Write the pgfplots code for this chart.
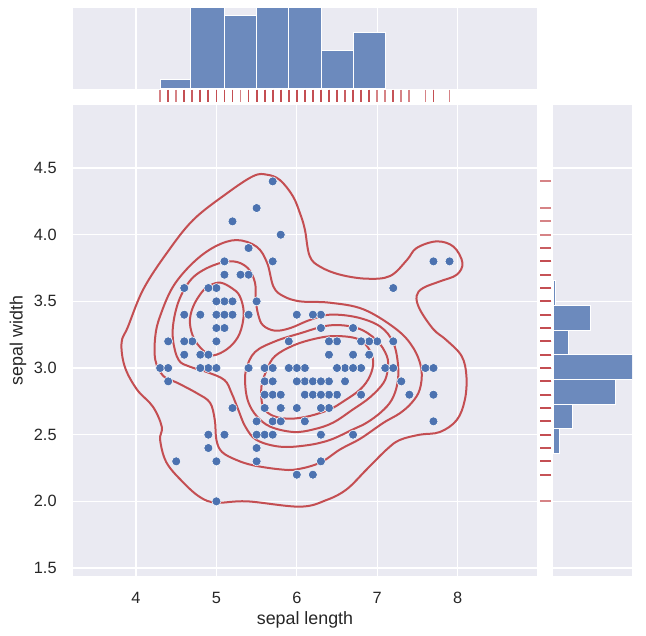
\documentclass[border=0pt]{standalone}
\usepackage{fontspec}
\setmainfont{Liberation Sans}
\usepackage{pgfplots}
\usepackage{pgfplotstable}
\pgfplotsset{compat=1.18}

\definecolor{bg}{HTML}{EAEAF2}
\definecolor{ptblue}{HTML}{4C72B0}
\definecolor{histblue}{RGB}{108,138,189}
\definecolor{kdered}{HTML}{C44E52}
\definecolor{txt}{gray}{0.15}

% iris: sepal length / sepal width
\pgfplotstableread{
sl sw
5.1 3.5
4.9 3.0
4.7 3.2
4.6 3.1
5.0 3.6
5.4 3.9
4.6 3.4
5.0 3.4
4.4 2.9
4.9 3.1
5.4 3.7
4.8 3.4
4.8 3.0
4.3 3.0
5.8 4.0
5.7 4.4
5.4 3.9
5.1 3.5
5.7 3.8
5.1 3.8
5.4 3.4
5.1 3.7
4.6 3.6
5.1 3.3
4.8 3.4
5.0 3.0
5.0 3.4
5.2 3.5
5.2 3.4
4.7 3.2
4.8 3.1
5.4 3.4
5.2 4.1
5.5 4.2
4.9 3.1
5.0 3.2
5.5 3.5
4.9 3.6
4.4 3.0
5.1 3.4
5.0 3.5
4.5 2.3
4.4 3.2
5.0 3.5
5.1 3.8
4.8 3.0
5.1 3.8
4.6 3.2
5.3 3.7
5.0 3.3
7.0 3.2
6.4 3.2
6.9 3.1
5.5 2.3
6.5 2.8
5.7 2.8
6.3 3.3
4.9 2.4
6.6 2.9
5.2 2.7
5.0 2.0
5.9 3.0
6.0 2.2
6.1 2.9
5.6 2.9
6.7 3.1
5.6 3.0
5.8 2.7
6.2 2.2
5.6 2.5
5.9 3.2
6.1 2.8
6.3 2.5
6.1 2.8
6.4 2.9
6.6 3.0
6.8 2.8
6.7 3.0
6.0 2.9
5.7 2.6
5.5 2.4
5.5 2.4
5.8 2.7
6.0 2.7
5.4 3.0
6.0 3.4
6.7 3.1
6.3 2.3
5.6 3.0
5.5 2.5
5.5 2.6
6.1 3.0
5.8 2.6
5.0 2.3
5.6 2.7
5.7 3.0
5.7 2.9
6.2 2.9
5.1 2.5
5.7 2.8
6.3 3.3
5.8 2.7
7.1 3.0
6.3 2.9
6.5 3.0
7.6 3.0
4.9 2.5
7.3 2.9
6.7 2.5
7.2 3.6
6.5 3.2
6.4 2.7
6.8 3.0
5.7 2.5
5.8 2.8
6.4 3.2
6.5 3.0
7.7 3.8
7.7 2.6
6.0 2.2
6.9 3.2
5.6 2.8
7.7 2.8
6.3 2.7
6.7 3.3
7.2 3.2
6.2 2.8
6.1 3.0
6.4 2.8
7.2 3.0
7.4 2.8
7.9 3.8
6.4 2.8
6.3 2.8
6.1 2.6
7.7 3.0
6.3 3.4
6.4 3.1
6.0 3.0
6.9 3.1
6.7 3.1
6.9 3.1
5.8 2.7
6.8 3.2
6.7 3.3
6.7 3.0
6.3 2.5
6.5 3.0
6.2 3.4
5.9 3.0
}\iris

\pgfplotsset{
  sns/.style={
    scale only axis,
    axis background/.style={fill=bg},
    axis line style={draw=none},
    major tick length=0pt,
    grid style={white, line width=0.8pt},
    tick label style={text=txt, font=\fontsize{9.8}{11}\selectfont},
    /pgf/number format/assume math mode=true,
    label style={text=txt, font=\fontsize{10.7}{12}\selectfont},
  },
  kde/.style={draw=kdered, line width=1.2pt, smooth cycle, tension=0.6},
  rug/.style={only marks, mark options={draw=kdered, line width=1.1pt, opacity=0.7}},
}

\begin{document}
\begin{tikzpicture}

% joint axis
\begin{axis}[sns, name=main,
    width=278.4pt, height=282.6pt,
    xmin=3.216, xmax=8.988, ymin=1.44, ymax=4.973,
    xtick={4,5,6,7,8},
    ytick={1.5,2.0,2.5,3.0,3.5,4.0,4.5},
    yticklabel style={/pgf/number format/fixed, /pgf/number format/fixed zerofill,
      /pgf/number format/precision=1, xshift=-6.3pt},
    xticklabel style={yshift=-6pt},
    grid=major,
    xlabel={sepal length}, ylabel={sepal width},
    xlabel style={at={(axis description cs:0.5,0)}, anchor=center, yshift=-26.4pt},
    ylabel style={at={([xshift=-33pt]axis description cs:0,0.5)}, anchor=center},
  ]
  % kde contours (levels=6)
  \addplot[kde] coordinates {(3.82,3.19)(3.86,3.01)(4.01,2.84)(4.21,2.71)(4.32,2.56)(4.30,2.46)(4.38,2.29)(4.59,2.14)(4.80,2.03)(5.00,1.99)(5.38,2.00)(6.04,1.96)(6.37,2.01)(6.62,2.09)(6.87,2.24)(7.12,2.39)(7.28,2.46)(7.53,2.50)(7.78,2.52)(7.99,2.61)(8.09,2.76)(8.11,2.94)(8.05,3.09)(7.86,3.21)(7.70,3.29)(7.53,3.44)(7.49,3.54)(7.57,3.60)(7.78,3.65)(7.99,3.70)(8.06,3.79)(7.95,3.91)(7.74,3.95)(7.49,3.90)(7.37,3.81)(7.16,3.69)(6.87,3.67)(6.54,3.70)(6.29,3.76)(6.16,3.84)(6.10,4.04)(6.04,4.16)(5.95,4.29)(5.79,4.41)(5.63,4.45)(5.46,4.44)(5.13,4.31)(4.71,4.11)(4.38,3.86)(4.09,3.59)(3.90,3.31)};
  \addplot[kde] coordinates {(4.71,3.79)(4.98,3.91)(5.25,3.96)(5.50,3.91)(5.63,3.79)(5.71,3.61)(5.83,3.54)(6.04,3.50)(6.41,3.49)(6.83,3.44)(7.24,3.29)(7.45,3.15)(7.55,2.99)(7.53,2.84)(7.43,2.74)(7.28,2.66)(7.08,2.59)(6.79,2.47)(6.54,2.39)(6.29,2.29)(6.00,2.24)(5.79,2.24)(5.46,2.27)(5.25,2.31)(5.07,2.37)(5.00,2.46)(4.98,2.61)(4.92,2.74)(4.76,2.81)(4.51,2.89)(4.34,2.94)(4.24,3.06)(4.24,3.24)(4.30,3.39)(4.46,3.61)};
  \addplot[kde] coordinates {(4.96,3.77)(5.21,3.80)(5.39,3.75)(5.48,3.64)(5.49,3.51)(5.52,3.40)(5.58,3.32)(5.73,3.28)(5.92,3.30)(6.16,3.36)(6.41,3.40)(6.75,3.38)(7.04,3.31)(7.20,3.19)(7.26,3.02)(7.25,2.88)(7.18,2.76)(7.05,2.67)(6.87,2.59)(6.70,2.54)(6.41,2.46)(6.12,2.42)(5.79,2.41)(5.50,2.46)(5.36,2.56)(5.27,2.69)(5.19,2.81)(5.10,2.91)(4.88,2.97)(4.67,3.01)(4.53,3.06)(4.46,3.21)(4.47,3.36)(4.55,3.53)(4.71,3.68)};
  \addplot[kde] coordinates {(5.37,2.99)(5.48,3.12)(5.73,3.20)(6.04,3.26)(6.41,3.32)(6.75,3.30)(6.99,3.21)(7.12,3.09)(7.13,2.99)(7.08,2.89)(6.91,2.78)(6.70,2.69)(6.45,2.59)(6.21,2.54)(5.96,2.52)(5.67,2.56)(5.50,2.64)(5.40,2.74)(5.36,2.86)};
  \addplot[kde] coordinates {(5.05,3.64)(5.19,3.60)(5.29,3.54)(5.34,3.41)(5.29,3.26)(5.17,3.16)(5.00,3.10)(4.88,3.11)(4.73,3.21)(4.67,3.34)(4.71,3.46)(4.82,3.57)(4.92,3.62)};
  \addplot[kde] coordinates {(5.63,2.99)(5.73,3.09)(5.96,3.17)(6.23,3.22)(6.48,3.24)(6.75,3.22)(6.89,3.15)(6.95,3.05)(6.91,2.94)(6.79,2.84)(6.58,2.75)(6.41,2.69)(6.16,2.64)(5.92,2.62)(5.71,2.64)(5.58,2.71)(5.56,2.86)};
  % points
  \addplot[only marks, mark=*, mark size=2.7pt,
    mark options={fill=ptblue, draw=white, line width=0.3pt}]
    table[x=sl, y=sw] {\iris};
\end{axis}

% rug strips (in the gaps beside the joint axis)
\begin{axis}[name=toprug, at={(main.north west)}, anchor=south west, scale only axis,
    width=278.4pt, height=9.6pt,
    xmin=3.216, xmax=8.988, ymin=0, ymax=16, hide axis, clip=false]
  \addplot[rug, mark=|, mark size=3.6pt] table[x=sl, y expr=9] {\iris};
\end{axis}
\begin{axis}[name=rightrug, at={(main.south east)}, anchor=south west, scale only axis,
    width=9.6pt, height=282.6pt,
    xmin=0, xmax=16, ymin=1.44, ymax=4.973, hide axis, clip=false]
  \addplot[rug, mark=-, mark size=3.3pt] table[x expr=8.5, y=sw] {\iris};
\end{axis}

% top marginal histogram
\begin{axis}[sns,
    at={(toprug.north west)}, anchor=south west,
    width=278.4pt, height=48.6pt,
    xmin=3.216, xmax=8.988, ymin=0, ymax=81,
    xtick={4,5,6,7,8}, xticklabels={}, ytick=\empty,
    xmajorgrids,
  ]
  \addplot[ybar interval, fill=histblue, draw=white, line width=0.6pt]
    coordinates {(4.31,9.7)(4.68,81)(5.10,73.7)(5.50,81)(5.90,81)(6.31,38.3)(6.71,56)(7.10,56)};
\end{axis}

% right marginal histogram
\begin{axis}[sns,
    at={(rightrug.south east)}, anchor=south west,
    width=47.4pt, height=282.6pt,
    xmin=0, xmax=79, ymin=1.44, ymax=4.973,
    ytick={1.5,2.0,2.5,3.0,3.5,4.0,4.5}, yticklabels={}, xtick=\empty,
    ymajorgrids,
  ]
  \addplot[xbar interval, fill=histblue, draw=white, line width=0.6pt]
    coordinates {(6.3,2.36)(19.3,2.545)(62.3,2.73)(79,2.915)(15.3,3.10)(37,3.285)(2,3.47)(2,3.655)};
\end{axis}

\path ([xshift=-43.8pt,yshift=-36pt]main.south west) rectangle ++(387.6pt,381.6pt);
\end{tikzpicture}
\end{document}
